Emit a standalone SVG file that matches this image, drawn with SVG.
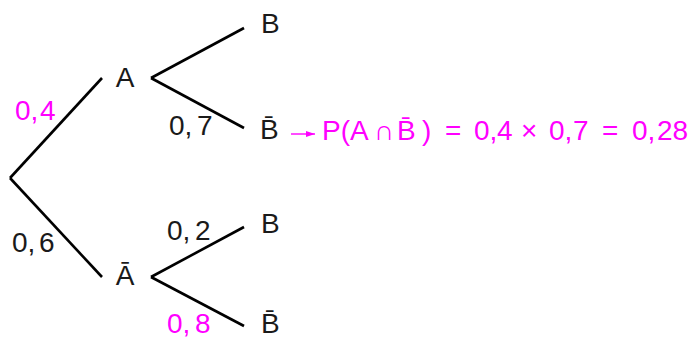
<svg xmlns="http://www.w3.org/2000/svg" width="692" height="338" viewBox="0 0 692 338">
<style>
.t{font-family:"Liberation Sans",Arial,sans-serif;font-size:28px;fill:#1a1a1a}
.m{fill:#ff00ff}
.e{stroke:#000;stroke-width:2.6;fill:none;stroke-linecap:butt}
</style>
<defs>
<marker id="ah" viewBox="0 0 10 10" refX="10" refY="5" markerWidth="9" markerHeight="6" orient="auto" markerUnits="userSpaceOnUse" preserveAspectRatio="none">
<path d="M0,0 L10,5 L0,10 Z" fill="#ff00ff"/>
</marker>
</defs>
<rect width="692" height="338" fill="#fff"/>
<g id="connectors">
<line class="e" x1="10" y1="178" x2="102" y2="78"/>
<line class="e" x1="10" y1="178" x2="102" y2="277"/>
<line class="e" x1="151" y1="78" x2="244" y2="28"/>
<line class="e" x1="151" y1="78" x2="244" y2="128"/>
<line class="e" x1="151" y1="277" x2="244" y2="227"/>
<line class="e" x1="151" y1="277" x2="244" y2="326"/>
<line x1="291" y1="134" x2="315" y2="134" stroke="#ff00ff" stroke-width="1.4" marker-end="url(#ah)"/>
</g>
<g id="nodeA"><text class="t" x="125" y="87" text-anchor="middle">A</text></g>
<g id="nodeAbar"><text class="t" x="125" y="285" text-anchor="middle">A&#772;</text></g>
<g id="nodeAB"><text class="t" x="261" y="33">B</text></g>
<g id="nodeABbar"><text class="t" x="260" y="139">B&#772;</text></g>
<g id="nodeAbarB"><text class="t" x="261" y="233">B</text></g>
<g id="nodeAbarBbar"><text class="t" x="261" y="333">B&#772;</text></g>
<g id="labels">
<text class="t m" x="15" y="120">0,<tspan x="40">4</tspan></text>
<text class="t" x="169" y="135">0,<tspan x="197">7</tspan></text>
<text class="t" x="12" y="252">0,<tspan x="39">6</tspan></text>
<text class="t" x="167" y="240">0,<tspan x="195">2</tspan></text>
<text class="t m" x="167" y="333">0,<tspan x="195">8</tspan></text>
</g>
<g id="formula">
<text class="t m" x="322" y="140">P(A<tspan x="374">∩</tspan><tspan x="397">B&#772;</tspan><tspan x="422">)</tspan><tspan x="445">=</tspan><tspan x="474">0,</tspan><tspan x="497">4</tspan><tspan x="521">×</tspan><tspan x="549">0,</tspan><tspan x="573">7</tspan><tspan x="602">=</tspan><tspan x="632">0,</tspan><tspan x="657">28</tspan></text>
</g>
</svg>
